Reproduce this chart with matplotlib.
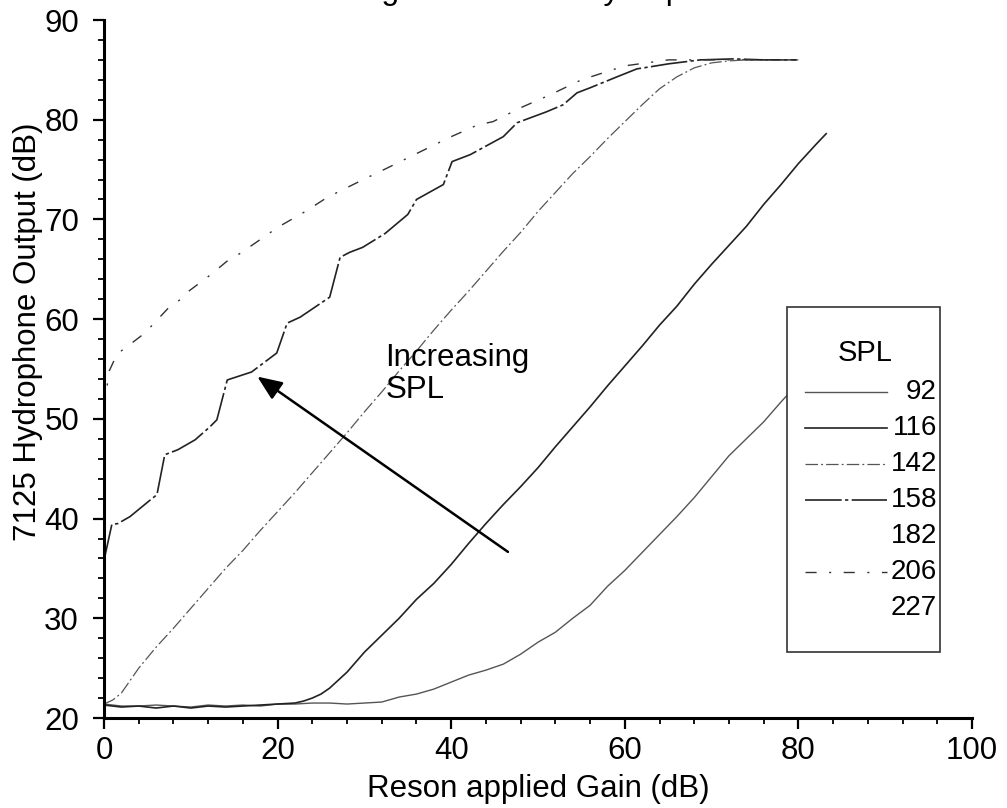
import matplotlib
matplotlib.use("Agg")
import matplotlib.pyplot as plt
from matplotlib.ticker import MultipleLocator
from matplotlib.patches import Rectangle

plt.rcParams['font.family'] = ['Liberation Sans', 'DejaVu Sans']

# Reson applied gain (dB) vs 7125 hydrophone output (dB), one curve per SPL
spl_levels = [92, 116, 142, 158, 182, 206, 227]

gain_92 = [0, 2, 4, 6, 8, 10, 12, 14, 16, 18, 20, 22, 24, 26, 28, 30, 32, 34, 36, 38,
           40, 42, 44, 46, 48, 50, 52, 54, 56, 58, 60, 62, 64, 66, 68, 70, 72, 74, 76, 78,
           80, 82, 83]
out_92 = [21.4, 21.2, 21.2, 21.3, 21.2, 21.1, 21.3, 21.2, 21.3, 21.2, 21.4, 21.4, 21.5, 21.5,
          21.4, 21.5, 21.6, 22.1, 22.4, 22.9, 23.6, 24.3, 24.8, 25.4, 26.4, 27.6, 28.6, 30.0,
          31.3, 33.2, 34.8, 36.6, 38.4, 40.2, 42.1, 44.2, 46.3, 48.0, 49.7, 51.7, 53.6, 55.5,
          56.5]

gain_116 = [0, 2, 4, 6, 8, 10, 12, 14, 16, 18, 20, 22, 23, 24, 25, 26, 28, 30, 32, 34, 36,
            38, 40, 42, 44, 46, 48, 50, 52, 54, 56, 58, 60, 62, 64, 66, 68, 70, 72, 74, 76,
            78, 80, 82, 83.2]
out_116 = [21.3, 21.1, 21.2, 21.0, 21.2, 21.0, 21.2, 21.1, 21.2, 21.3, 21.4, 21.5, 21.7, 22.0,
           22.4, 23.0, 24.6, 26.6, 28.3, 30.0, 31.9, 33.5, 35.4, 37.5, 39.5, 41.4, 43.2, 45.1,
           47.2, 49.2, 51.2, 53.3, 55.3, 57.3, 59.4, 61.3, 63.5, 65.5, 67.4, 69.3, 71.5, 73.5,
           75.6, 77.5, 78.6]

gain_142 = [0, 1, 2, 4, 6, 8, 10, 12, 14, 16, 18, 20, 22, 24, 26, 28, 30, 32, 34, 36, 38,
            40, 42, 44, 46, 48, 50, 52, 54, 56, 58, 60, 62, 64, 66, 68, 70, 72, 74, 76, 78, 80]
out_142 = [21.4, 21.8, 22.5, 25.0, 27.1, 29.0, 31.0, 33.0, 35.0, 36.8, 38.8, 40.7, 42.6, 44.6,
           46.6, 48.6, 50.7, 52.7, 54.8, 56.8, 58.9, 60.9, 62.8, 64.8, 66.8, 68.7, 70.8, 72.7,
           74.6, 76.3, 78.1, 79.8, 81.5, 83.1, 84.3, 85.2, 85.7, 85.9, 86.0, 86.0, 86.0, 86.0]

gain_158 = [0, 0.9, 1.6, 3.0, 5.1, 6.1, 7.0, 8.5, 10.5, 12.2, 13.0, 14.2, 17.0, 19.9, 21.1,
            22.6, 26.0, 27.2, 28.3, 29.8, 32.4, 35.0, 36.0, 39.1, 40.1, 42.2, 46.0, 47.6, 51.0,
            52.9, 54.5, 56.0, 59.1, 61.4, 62.9, 65.0, 68.7, 72.5, 76.0, 79.8]
out_158 = [35.8, 39.4, 39.5, 40.2, 41.7, 42.4, 46.4, 46.9, 47.9, 49.2, 49.9, 53.9, 54.7, 56.6,
           59.6, 60.2, 62.2, 66.2, 66.7, 67.2, 68.6, 70.5, 72.0, 73.5, 75.8, 76.5, 78.3, 79.7,
           80.8, 81.5, 82.7, 83.2, 84.3, 85.1, 85.3, 85.6, 86.0, 86.1, 86.0, 86.0]

gain_206 = [0, 0.6, 1.5, 3.2, 4.7, 7.4, 9.0, 9.6, 12.2, 14.3, 15.7, 18.2, 20.0, 23.2, 25.7,
            30.1, 31.8, 36.0, 40.0, 43.1, 44.8, 48.0, 51.4, 55.0, 60.0, 65.0, 70.0, 80.0]
out_206 = [51.0, 54.8, 56.5, 57.6, 58.6, 61.1, 62.1, 62.7, 64.4, 65.9, 66.6, 68.1, 69.2, 70.8,
           72.2, 74.1, 74.8, 76.6, 78.3, 79.5, 79.8, 81.2, 82.5, 84.0, 85.4, 86.0, 86.0, 86.0]

curves = {92: (gain_92, out_92), 116: (gain_116, out_116), 142: (gain_142, out_142),
          158: (gain_158, out_158), 206: (gain_206, out_206)}

styles = {
    92: dict(color='#555555', lw=1.0, ls='-'),
    116: dict(color='#222222', lw=1.2, ls='-'),
    142: dict(color='#555555', lw=0.9, ls=(0, (10, 2.5, 1.5, 2.5))),
    158: dict(color='#222222', lw=1.2, ls=(0, (22, 2, 2, 2))),
    206: dict(color='#333333', lw=1.0, ls=(0, (8, 9, 1.5, 9))),
}

fig = plt.figure(figsize=(10.07, 8.08), dpi=100)
ax = fig.add_axes([104 / 1007, 1 - 718 / 808, 868 / 1007, 698 / 808])

for spl, (g, o) in curves.items():
    ax.plot(g, o, **styles[spl])

ax.set_xlim(0, 100)
ax.set_ylim(20, 90)
ax.xaxis.set_major_locator(MultipleLocator(20))
ax.xaxis.set_minor_locator(MultipleLocator(4))
ax.yaxis.set_major_locator(MultipleLocator(10))
ax.yaxis.set_minor_locator(MultipleLocator(2))
ax.tick_params(which='major', direction='out', length=8, width=1.6, labelsize=22.5)
ax.tick_params(axis='x', which='major', pad=5)
ax.tick_params(axis='y', which='major', pad=10)
ax.tick_params(which='minor', direction='out', length=4, width=1.3)
for side in ['top', 'right']:
    ax.spines[side].set_visible(False)
for side in ['left', 'bottom']:
    ax.spines[side].set_linewidth(2.2)

ax.set_xlabel('Reson applied Gain (dB)', fontsize=22.5)
ax.set_ylabel('7125 Hydrophone Output (dB)', fontsize=22.5)
ax.xaxis.set_label_coords(0.5, -0.08)
ax.yaxis.set_label_coords(-0.07, 0.554)

# arrow and note
ax.annotate('', xy=(17.4, 54.4), xytext=(46.8, 36.5),
            arrowprops=dict(arrowstyle='-|>,head_length=0.6,head_width=0.25',
                            mutation_scale=25, lw=1.8, color='black'))
ax.text(32.4, 57.6, 'Increasing\nSPL', fontsize=22.5, va='top', ha='left', linespacing=1.1)

# legend box drawn by hand so the labels sit right-aligned
box = Rectangle((0.787, 0.0946), 0.176, 0.494, transform=ax.transAxes,
                facecolor='white', edgecolor='#333333', lw=1.2, zorder=5)
ax.add_patch(box)
ax.text(0.8765, 0.523, 'SPL', transform=ax.transAxes, fontsize=21,
        ha='center', va='center', zorder=6)
for i, spl in enumerate(spl_levels):
    yy = 0.467 - i * 0.0516
    if spl in styles:
        ax.plot([0.8076, 0.902], [yy, yy], transform=ax.transAxes, zorder=6, **styles[spl])
    ax.text(0.9597, yy, str(spl), transform=ax.transAxes, fontsize=20,
            ha='right', va='center', zorder=6)

# title sits mostly above the top edge of the page
fig.text(280 / 1007, 1 + 1 / 808, 'Reson gain vs. 7125 Hydrophone Level', fontsize=23,
         ha='left', va='baseline')

fig.savefig('out.png', dpi=100)
